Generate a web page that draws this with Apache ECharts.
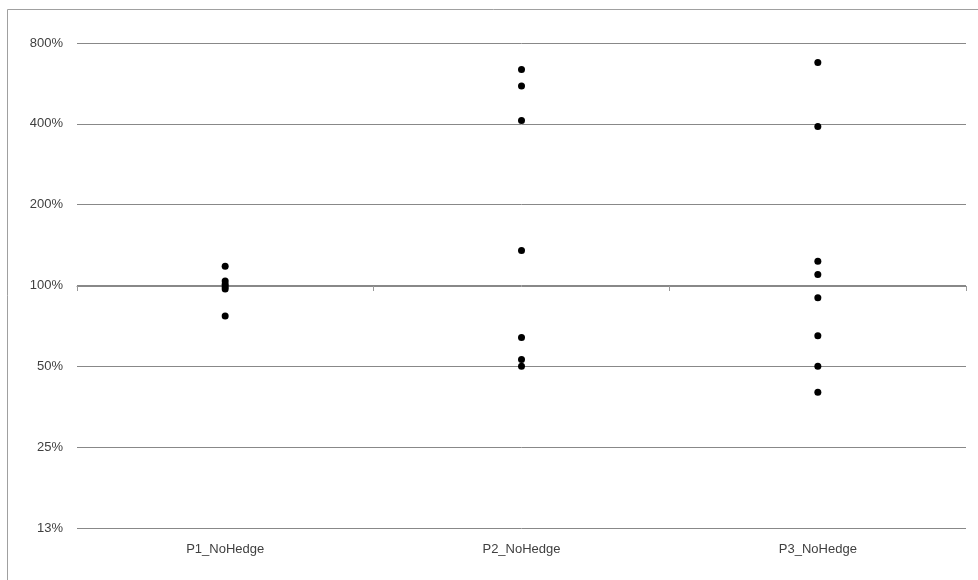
<!DOCTYPE html>
<html>
<head>
<meta charset="utf-8">
<script src="https://cdn.jsdelivr.net/npm/echarts@6/dist/echarts.min.js"></script>
<style>html,body{margin:0;padding:0;background:#fff}#c{width:978px;height:580px}</style>
</head>
<body>
<div id="c"></div>
<script>
const categories = ['P1_NoHedge', 'P2_NoHedge', 'P3_NoHedge'];
const p1Values = [1.18, 1.04, 1.01, 0.99, 0.97, 0.77];
const p2Values = [6.38, 5.53, 4.12, 1.35, 0.64, 0.53, 0.50];
const p3Values = [6.77, 3.91, 1.23, 1.10, 0.90, 0.65, 0.50, 0.40];
const yMin = 0.125, yMax = 8;

const points = [];
[p1Values, p2Values, p3Values].forEach((arr, i) => arr.forEach(v => points.push([categories[i], v])));

const chart = echarts.init(document.getElementById('c'), null, {renderer: 'canvas'});
const font = 'Liberation Sans, Arial, sans-serif';
chart.setOption({
  animation: false,
  backgroundColor: '#fff',
  graphic: [{
    type: 'rect', silent: true, x: 0, y: 0,
    shape: {x: 7.5, y: 9.5, width: 1000, height: 1000},
    style: {fill: 'none', stroke: '#a0a0a0', lineWidth: 1}
  }],
  grid: {left: 77, right: 12, top: 43, bottom: 52},
  xAxis: [{
    type: 'category', data: categories, position: 'bottom',
    axisLine: {show: false}, axisTick: {show: false},
    axisLabel: {color: '#404040', fontFamily: font, fontSize: 13, margin: 15},
    splitLine: {show: false}
  }, {
    type: 'category', data: categories, position: 'bottom', offset: -242,
    axisLine: {show: true, lineStyle: {color: '#888', width: 1}},
    axisTick: {show: true, length: 5, lineStyle: {color: '#999'}},
    axisLabel: {show: false}
  }],
  yAxis: {
    type: 'log', logBase: 2, min: yMin, max: yMax, splitNumber: 6,
    axisLine: {show: false}, axisTick: {show: false},
    axisLabel: {color: '#404040', fontFamily: font, fontSize: 13, margin: 14,
      formatter: v => Math.round(v * 100) + '%'},
    splitLine: {show: true, lineStyle: {color: '#888', width: 1}}
  },
  series: [{
    type: 'scatter', xAxisIndex: 0, data: points,
    symbol: 'circle', symbolSize: 7,
    itemStyle: {color: '#000', opacity: 1}
  }]
});
</script>
</body>
</html>
